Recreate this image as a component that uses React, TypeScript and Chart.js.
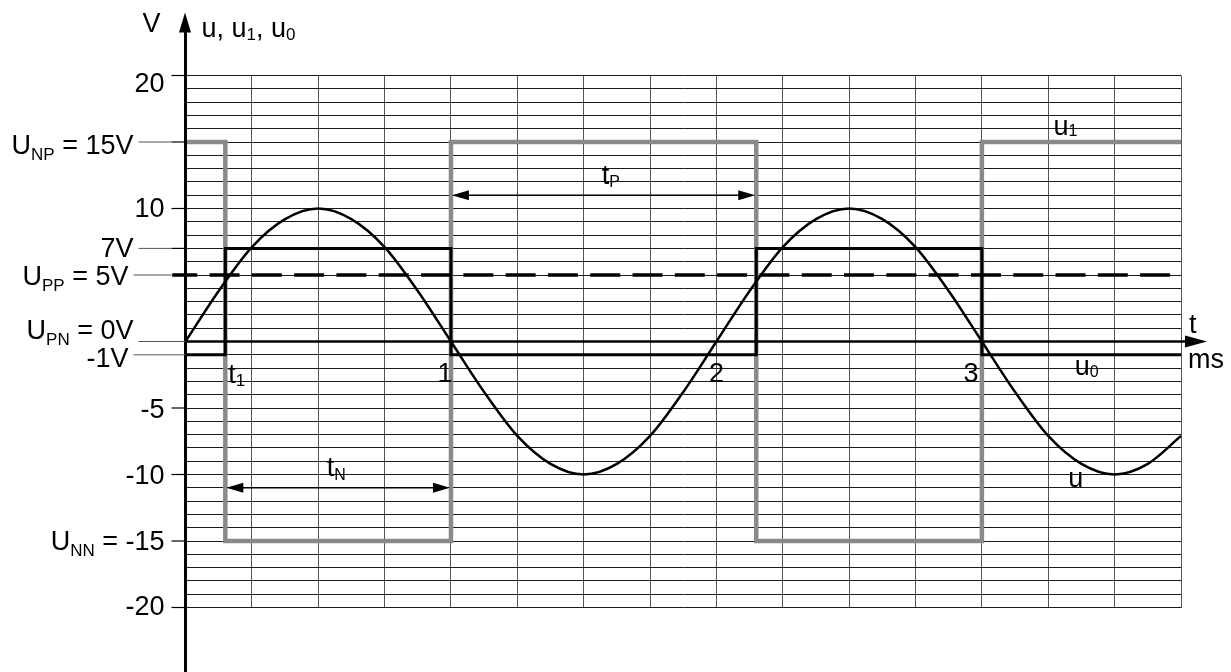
import React, { useEffect, useRef } from "react";
import { Chart, registerables } from "chart.js";

Chart.register(...registerables);

// Time axis (ms) and voltage axis (V)
const T_MIN = 0;
const T_MAX = 3.75;
const V_MIN = -20;
const V_MAX = 20;

// Input voltage u, sampled every 0.125 ms
const uTimes = [
  0, 0.125, 0.25, 0.375, 0.5, 0.625, 0.75, 0.875, 1, 1.125, 1.25, 1.375, 1.5,
  1.625, 1.75, 1.875, 2, 2.125, 2.25, 2.375, 2.5, 2.625, 2.75, 2.875, 3, 3.125,
  3.25, 3.375, 3.5, 3.625, 3.75,
];
const uValues = [
  0, 3.8, 7.1, 9.2, 10, 9.2, 7.1, 3.8, 0, -3.8, -7.1, -9.2, -10, -9.2, -7.1,
  -3.8, 0, 3.8, 7.1, 9.2, 10, 9.2, 7.1, 3.8, 0, -3.8, -7.1, -9.2, -10, -9.2,
  -7.1,
];

// Switching instants of the comparator
const switchTimes = [0, 0.15, 0.15, 1, 1, 2.15, 2.15, 3, 3, 3.75];
// Comparator output u1
const u1Values = [15, 15, -15, -15, 15, 15, -15, -15, 15, 15];
// Reference voltage u0
const u0Values = [-1, -1, 7, 7, -1, -1, 7, 7, -1, -1];
// Upper threshold U_PP
const thresholdTimes = [-0.05, 3.71];
const thresholdValues = [5, 5];

// Vertical axis labels
type Part = [string, boolean];
const yLabelValues = [20, 15, 10, 7, 5, 0, -1, -5, -10, -15, -20];
const yLabelTexts: Part[][] = [
  [["20", false]],
  [["U", false], ["NP", true], [" = 15V", false]],
  [["10", false]],
  [["7V", false]],
  [["U", false], ["PP", true], [" = 5V", false]],
  [["U", false], ["PN", true], [" = 0V", false]],
  [["-1V", false]],
  [["-5", false]],
  [["-10", false]],
  [["U", false], ["NN", true], [" = -15", false]],
  [["-20", false]],
];
// Time axis labels
const xLabelValues = [1, 2, 3];
const xLabelTexts = ["1", "2", "3"];

// Layout of the axis labels (pixels, relative to the plot edge / value line)
const yLabelRight = [-21, -52, -21, -52, -57, -52, -57, -21, -21, -21, -21];
const yLabelDy = [16, 12, 8, 9, 10, -3, 12, 10, 9, 9, 7];
const xLabelDx = [-6, 0, -11];

const FONT = '"Liberation Sans", Arial, Helvetica, sans-serif';
const MAIN = 27;
const SUB = 17;

function drawRich(
  ctx: CanvasRenderingContext2D,
  parts: Part[],
  x: number,
  y: number,
  align: "left" | "right" | "center",
  subSize = SUB,
  subDrop = 6
) {
  const widths = parts.map(([t, sub]) => {
    ctx.font = `${sub ? subSize : MAIN}px ${FONT}`;
    return ctx.measureText(t).width;
  });
  const total = widths.reduce((a, b) => a + b, 0);
  let cx = align === "left" ? x : align === "right" ? x - total : x - total / 2;
  ctx.textAlign = "left";
  ctx.textBaseline = "alphabetic";
  parts.forEach(([t, sub], i) => {
    ctx.font = `${sub ? subSize : MAIN}px ${FONT}`;
    ctx.fillText(t, cx, sub ? y + subDrop : y);
    cx += widths[i];
  });
  return total;
}

function arrowHead(
  ctx: CanvasRenderingContext2D,
  tipX: number,
  tipY: number,
  dx: number,
  dy: number,
  len: number,
  half: number
) {
  const bx = tipX - dx * len;
  const by = tipY - dy * len;
  ctx.beginPath();
  ctx.moveTo(tipX, tipY);
  ctx.lineTo(bx - dy * half, by + dx * half);
  ctx.lineTo(bx + dy * half, by - dx * half);
  ctx.closePath();
  ctx.fill();
}

function seg(ctx: CanvasRenderingContext2D, x1: number, y1: number, x2: number, y2: number) {
  ctx.beginPath();
  ctx.moveTo(x1, y1);
  ctx.lineTo(x2, y2);
  ctx.stroke();
}

const overlayPlugin = {
  id: "comparatorOverlay",
  afterDraw(chart: any) {
    const ctx: CanvasRenderingContext2D = chart.ctx;
    const xs = chart.scales.x;
    const ys = chart.scales.y;
    const X = (v: number) => xs.getPixelForValue(v);
    const Y = (v: number) => ys.getPixelForValue(v);
    const { left, top } = chart.chartArea;
    ctx.save();
    ctx.fillStyle = "#000";
    ctx.strokeStyle = "#000";

    // time axis with arrow
    ctx.lineWidth = 2.5;
    seg(ctx, left, Y(0), X(T_MAX) + 6, Y(0));
    arrowHead(ctx, X(T_MAX) + 26, Y(0), 1, 0, 22, 6);

    // voltage axis with arrow
    ctx.lineWidth = 3;
    seg(ctx, left, chart.height, left, top - 44);
    arrowHead(ctx, left - 0.5, top - 63, 0, -1, 20, 6);

    // vertical axis labels, leaders and ticks
    yLabelValues.forEach((v, i) => {
      const y = Y(v);
      const right = left + yLabelRight[i];
      drawRich(ctx, yLabelTexts[i], right, y + yLabelDy[i], "right");
      const tickStart = left - 14;
      if (right < left - 40) {
        ctx.strokeStyle = "#555";
        ctx.lineWidth = 1;
        const end = v === 0 || v === -1 ? left : tickStart;
        seg(ctx, right + 5, y, end, y);
      }
      if (v !== 0 && v !== -1 && v !== 5) {
        ctx.strokeStyle = "#000";
        ctx.lineWidth = 1.2;
        seg(ctx, tickStart, y, left, y);
      }
    });
    ctx.strokeStyle = "#000";

    // time axis labels
    xLabelValues.forEach((v, i) => {
      ctx.font = `${MAIN}px ${FONT}`;
      ctx.textAlign = "center";
      ctx.textBaseline = "alphabetic";
      ctx.fillText(xLabelTexts[i], X(v) + xLabelDx[i], Y(0) + 40);
    });

    // switching instant t1
    drawRich(ctx, [["t", false], ["1", true]], X(switchTimes[1]) + 3, Y(0) + 41, "left", SUB, 3);

    // pulse duration tP
    ctx.lineWidth = 1.5;
    const yP = Y(11);
    seg(ctx, X(1) + 4, yP, X(2.15) - 4, yP);
    arrowHead(ctx, X(1) + 1, yP, -1, 0, 17, 5);
    arrowHead(ctx, X(2.15) - 1, yP, 1, 0, 17, 5);
    drawRich(ctx, [["t", false], ["P", true]], X(1.568), yP - 11, "left", 16, 3);

    // pause duration tN
    const yN = Y(-11);
    seg(ctx, X(0.15) + 4, yN, X(1) - 4, yN);
    arrowHead(ctx, X(0.15) + 1, yN, -1, 0, 17, 5);
    arrowHead(ctx, X(1) - 1, yN, 1, 0, 17, 5);
    drawRich(ctx, [["t", false], ["N", true]], X(0.532), yN - 12, "left", 16, 4);

    // series names
    drawRich(ctx, [["u", false], ["1", true]], X(3.27), Y(15) - 7, "left", 16, 1);
    drawRich(ctx, [["u", false], ["0", true]], X(3.35), Y(-1) + 20, "left", 16, 2);
    drawRich(ctx, [["u", false]], X(3.325), Y(-10) + 12, "left");

    // axis titles
    drawRich(ctx, [["t", false]], X(T_MAX) + 8, Y(0) - 9, "left");
    drawRich(ctx, [["ms", false]], X(T_MAX) + 7, Y(0) + 26, "left");
    drawRich(ctx, [["V", false]], left - 43, 32, "left");
    drawRich(
      ctx,
      [["u, u", false], ["1", true], [", u", false], ["0", true]],
      left + 16,
      37,
      "left",
      17,
      3
    );
    ctx.restore();
  },
};

export default function App() {
  const canvasRef = useRef<HTMLCanvasElement | null>(null);

  useEffect(() => {
    if (!canvasRef.current) return;
    const pts = (xs: number[], ys: number[]) => xs.map((x, i) => ({ x, y: ys[i] }));
    const chart = new Chart(canvasRef.current, {
      type: "line",
      data: {
        datasets: [
          {
            label: "u",
            data: pts(uTimes, uValues),
            borderColor: "#000",
            borderWidth: 2.5,
            cubicInterpolationMode: "monotone",
            pointRadius: 0,
            fill: false,
            order: 0,
          },
          {
            label: "u0",
            data: pts(switchTimes, u0Values),
            borderColor: "#000",
            borderWidth: 3,
            tension: 0,
            pointRadius: 0,
            fill: false,
            order: 1,
          },
          {
            label: "UPP",
            data: pts(thresholdTimes, thresholdValues),
            borderColor: "#000",
            borderWidth: 3.5,
            borderDash: [30, 12.3],
            borderDashOffset: 5,
            pointRadius: 0,
            fill: false,
            clip: false,
            order: 2,
          },
          {
            label: "u1",
            data: pts(switchTimes, u1Values),
            borderColor: "#8a8a8a",
            borderWidth: 4.5,
            tension: 0,
            pointRadius: 0,
            fill: false,
            order: 3,
          },
        ] as any,
      },
      options: {
        animation: false,
        responsive: false,
        events: [],
        layout: { padding: { left: 185.5, right: 50, top: 75.5, bottom: 64.5 } },
        plugins: { legend: { display: false }, tooltip: { enabled: false } },
        scales: {
          x: {
            type: "linear",
            min: T_MIN,
            max: T_MAX,
            afterFit: (s: any) => {
              s.height = 0;
            },
            ticks: { display: false, stepSize: 0.25, maxTicksLimit: 1000 },
            grid: { color: "#555", lineWidth: 1, drawTicks: false },
            border: { display: false },
          },
          y: {
            type: "linear",
            min: V_MIN,
            max: V_MAX,
            afterFit: (s: any) => {
              s.width = 0;
            },
            ticks: { display: false, stepSize: 1, maxTicksLimit: 1000 },
            grid: { color: "#1a1a1a", lineWidth: 1, drawTicks: false },
            border: { display: false },
          },
        },
      } as any,
      plugins: [overlayPlugin],
    });
    return () => chart.destroy();
  }, []);

  return (
    <div style={{ position: "absolute", left: 0, top: 0, width: 1231, height: 672, background: "#fff" }}>
      <canvas ref={canvasRef} width={1231} height={672} style={{ display: "block" }} />
    </div>
  );
}
